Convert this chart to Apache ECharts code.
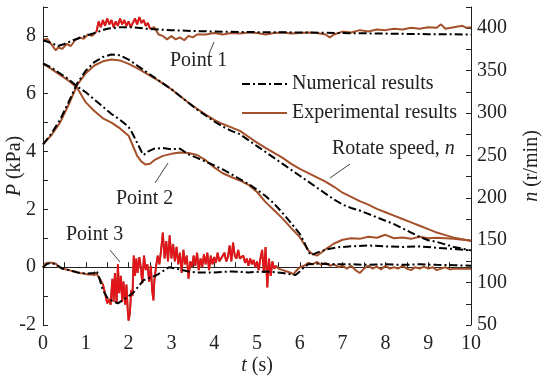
<!DOCTYPE html>
<html>
<head>
<meta charset="utf-8">
<script src="https://cdn.jsdelivr.net/npm/echarts@6/dist/echarts.min.js"></script>
<style>html,body{margin:0;padding:0;background:#fff}#c{width:550px;height:381px}</style>
</head>
<body>
<div id="c"></div>
<script>
// ---- data: [t (s), value] ----
var xTicks = [0,1,2,3,4,5,6,7,8,9,10];
var pTicks = [-2,0,2,4,6,8];
var nTicks = [50,100,150,200,250,300,350,400];

var point1Num = [[0,7.85],[0.2,7.75],[0.35,7.65],[0.5,7.72],[0.7,7.85],[0.9,7.95],[1.1,8.05],[1.3,8.15],[1.5,8.25],[1.8,8.3],[2.1,8.3],[2.4,8.25],[2.7,8.22],[3.0,8.2],[3.5,8.17],[4,8.15],[5,8.13],[6,8.12],[7,8.1],[8,8.08],[9,8.06],[10,8.05]];
var point1Exp = [[0,7.85],[0.1,7.9],[0.2,7.7],[0.3,7.5],[0.35,7.6],[0.45,7.55],[0.55,7.72],[0.65,7.65],[0.75,7.85],[0.85,7.95],[0.95,7.9],[1.05,8.05],[1.15,8.0],[1.25,8.15],[1.3,8.5],[1.35,8.3],[1.4,8.55],[1.45,8.35],[1.5,8.6],[1.55,8.4],[1.6,8.55],[1.65,8.3],[1.7,8.5],[1.75,8.35],[1.8,8.6],[1.85,8.4],[1.9,8.55],[1.95,8.35],[2.0,8.5],[2.05,8.3],[2.1,8.45],[2.15,8.6],[2.2,8.4],[2.25,8.65],[2.3,8.45],[2.35,8.55],[2.4,8.35],[2.45,8.45],[2.5,8.25],[2.6,8.3],[2.7,8.05],[2.8,8.0],[2.9,7.88],[3.0,8.0],[3.1,7.88],[3.2,7.95],[3.3,7.85],[3.4,8.0],[3.5,7.95],[3.6,8.05],[3.8,8.05],[4.0,8.1],[4.2,8.05],[4.4,8.1],[4.6,8.08],[4.8,8.12],[5.0,8.1],[5.2,8.05],[5.4,8.1],[5.6,8.12],[5.8,8.08],[6.0,8.1],[6.2,8.12],[6.4,8.1],[6.6,8.05],[6.7,7.95],[6.8,8.05],[7.0,8.15],[7.2,8.12],[7.4,8.2],[7.6,8.15],[7.8,8.22],[8.0,8.2],[8.2,8.25],[8.4,8.22],[8.6,8.28],[8.8,8.25],[9.0,8.3],[9.2,8.28],[9.3,8.4],[9.4,8.25],[9.6,8.3],[9.8,8.35],[9.9,8.28],[10,8.3]];

var point2Num = [[0,7.05],[0.2,6.9],[0.4,6.7],[0.6,6.5],[0.8,6.25],[1.0,6.05],[1.2,5.8],[1.4,5.55],[1.6,5.3],[1.8,5.1],[2.0,4.85],[2.1,4.6],[2.2,4.3],[2.3,4.0],[2.35,3.88],[2.45,4.0],[2.6,4.1],[2.8,4.12],[3.0,4.08],[3.2,4.1],[3.4,3.9],[3.6,3.78],[3.8,3.65],[4.0,3.52],[4.2,3.38],[4.4,3.22],[4.6,3.05],[4.8,2.88],[5.0,2.68],[5.2,2.46],[5.4,2.2],[5.6,1.87],[5.8,1.52],[6.0,1.15],[6.1,0.88],[6.2,0.55],[6.25,0.42],[6.35,0.47],[6.5,0.56],[6.7,0.64],[6.9,0.69],[7.2,0.72],[7.6,0.75],[8.0,0.72],[8.4,0.7],[8.8,0.72],[9.2,0.67],[9.6,0.63],[10,0.58]];
var point2Exp = [[0,7.05],[0.2,6.85],[0.4,6.65],[0.6,6.45],[0.8,6.2],[0.9,5.95],[1.0,5.7],[1.2,5.4],[1.4,5.15],[1.6,5.0],[1.8,4.8],[2.0,4.55],[2.1,4.2],[2.2,3.85],[2.3,3.65],[2.4,3.55],[2.5,3.58],[2.6,3.7],[2.8,3.85],[3.0,3.92],[3.2,3.97],[3.4,3.95],[3.6,3.88],[3.8,3.7],[4.0,3.45],[4.2,3.25],[4.4,3.12],[4.6,3.0],[4.8,2.85],[5.0,2.6],[5.2,2.25],[5.4,1.97],[5.6,1.68],[5.8,1.35],[6.0,1.04],[6.1,0.8],[6.2,0.58],[6.3,0.45],[6.4,0.4],[6.5,0.5],[6.6,0.62],[6.8,0.82],[7.0,0.95],[7.2,1.0],[7.4,0.98],[7.6,1.05],[7.8,1.02],[8.0,1.12],[8.2,1.0],[8.4,1.03],[8.6,0.98],[8.8,1.05],[9.0,1.0],[9.2,1.02],[9.4,1.0],[9.6,0.98],[9.8,0.95],[10,0.92]];

var point3Num = [[0,0.0],[0.1,0.12],[0.2,0.14],[0.3,0.1],[0.45,-0.05],[0.6,-0.1],[0.8,-0.18],[1.0,-0.22],[1.2,-0.2],[1.25,-0.12],[1.3,-0.3],[1.4,-0.8],[1.5,-1.05],[1.6,-1.15],[1.75,-1.25],[1.9,-1.1],[2.1,-0.9],[2.35,-0.45],[2.65,-0.28],[2.95,0.0],[3.2,-0.08],[3.4,-0.15],[3.6,-0.18],[4.0,-0.18],[4.4,-0.15],[4.8,-0.18],[5.2,-0.15],[5.6,-0.2],[5.8,-0.25],[5.9,-0.27],[6.0,-0.15],[6.1,0.0],[6.2,0.1],[6.4,0.12],[6.8,0.1],[7.2,0.1],[7.6,0.08],[8.0,0.1],[8.4,0.08],[8.8,0.1],[9.2,0.08],[9.6,0.07],[10,0.05]];
var point3Exp = [[0,0.0],[0.05,0.12],[0.1,0.15],[0.2,0.15],[0.3,0.12],[0.35,0.02],[0.45,-0.05],[0.55,-0.08],[0.65,-0.12],[0.75,-0.15],[0.85,-0.2],[0.95,-0.22],[1.05,-0.25],[1.15,-0.25],[1.2,-0.28],[1.25,-0.22],[1.3,-0.35],[1.35,-0.45],[1.4,-0.6],[1.45,-0.9],[1.5,-1.25],[1.55,-1.1],[1.58,-1.3],[1.62,-0.4],[1.65,-1.2],[1.68,-0.2],[1.72,-1.25],[1.75,0.1],[1.78,-0.9],[1.82,-0.3],[1.85,-1.2],[1.88,-0.5],[1.92,-1.3],[1.95,-0.6],[1.98,-1.5],[2.0,-1.85],[2.03,-1.6],[2.06,-0.8],[2.09,-1.0],[2.12,0.4],[2.15,-0.3],[2.18,0.3],[2.21,-0.2],[2.25,0.35],[2.28,0.05],[2.32,-0.55],[2.36,0.4],[2.4,-0.1],[2.44,0.1],[2.48,-0.5],[2.52,0.05],[2.55,-0.8],[2.58,-1.15],[2.6,-0.5],[2.64,0.0],[2.68,0.4],[2.72,0.1],[2.76,0.6],[2.8,1.2],[2.84,0.3],[2.88,0.9],[2.92,0.2],[2.96,1.1],[3.0,0.3],[3.04,0.8],[3.08,0.2],[3.12,0.7],[3.16,0.1],[3.2,0.5],[3.24,-0.2],[3.28,0.6],[3.32,0.1],[3.36,0.4],[3.4,-0.4],[3.44,0.2],[3.48,0.0],[3.52,0.4],[3.56,0.05],[3.6,0.5],[3.64,-0.1],[3.68,0.3],[3.72,0.0],[3.76,0.45],[3.8,0.1],[3.84,0.5],[3.88,-0.1],[3.92,0.4],[3.96,0.1],[4.0,0.35],[4.04,0.15],[4.08,0.5],[4.12,0.2],[4.16,0.3],[4.2,0.25],[4.24,0.5],[4.28,0.2],[4.32,0.35],[4.36,0.75],[4.4,0.2],[4.44,0.85],[4.48,0.4],[4.52,0.3],[4.56,0.6],[4.6,0.3],[4.64,0.25],[4.68,0.4],[4.72,0.15],[4.76,0.3],[4.8,0.05],[4.84,0.3],[4.88,0.1],[4.92,0.25],[4.96,0.0],[5.0,0.2],[5.04,-0.1],[5.08,0.3],[5.12,0.6],[5.16,-0.2],[5.2,0.7],[5.24,-0.7],[5.28,0.3],[5.32,-0.3],[5.36,0.2],[5.4,-0.05],[5.45,0.05],[5.5,-0.05],[5.6,-0.1],[5.7,-0.15],[5.8,-0.2],[5.85,-0.25],[5.9,-0.15],[6.0,0.0],[6.1,0.05],[6.2,0.15],[6.3,0.1],[6.4,0.18],[6.5,0.08],[6.6,0.15],[6.7,0.05],[6.8,0.1],[6.9,0.0],[7.0,0.05],[7.1,-0.05],[7.2,0.05],[7.3,-0.1],[7.4,-0.2],[7.5,-0.05],[7.6,0.05],[7.7,-0.05],[7.8,0.02],[7.9,-0.08],[8.0,0.05],[8.1,-0.05],[8.2,0.0],[8.3,-0.05],[8.4,0.05],[8.5,-0.05],[8.6,-0.1],[8.7,0.0],[8.8,-0.05],[8.9,0.02],[9.0,-0.05],[9.1,0.0],[9.2,-0.1],[9.3,-0.05],[9.4,0.0],[9.5,-0.08],[9.6,-0.05],[9.7,-0.05],[9.8,-0.05],[9.9,-0.05],[10,-0.05]];

var speedNum = [[0,263],[0.2,276],[0.4,292],[0.6,313],[0.8,335],[1.0,350],[1.2,360],[1.4,366],[1.6,369],[1.8,368],[2.0,363],[2.2,356],[2.4,349],[2.6,342],[2.8,335],[3.0,328],[3.2,320],[3.4,312],[3.6,304],[3.8,297],[4.0,290],[4.2,284],[4.4,279],[4.6,275],[4.8,268],[5.0,261],[5.2,254],[5.4,247],[5.6,240],[5.8,233],[6.0,226],[6.2,219],[6.4,212],[6.6,205],[6.8,198],[7.0,192],[7.2,188],[7.4,185],[7.6,181],[7.8,177],[8.0,173],[8.2,169],[8.4,164],[8.6,159],[8.8,154],[9.0,150],[9.2,148],[9.4,145],[9.6,142],[9.8,140],[10,138]];
var speedExp = [[0,263],[0.2,274],[0.4,289],[0.6,310],[0.8,333],[1.0,347],[1.2,356],[1.4,361],[1.6,363],[1.8,362],[2.0,358],[2.2,353],[2.4,347],[2.6,341],[2.8,335],[3.0,328],[3.2,320],[3.4,312],[3.6,305],[3.8,298],[4.0,292],[4.2,287],[4.4,283],[4.6,279],[4.8,272],[5.0,265],[5.2,259],[5.4,253],[5.6,247],[5.8,240],[6.0,234],[6.2,229],[6.4,224],[6.6,219],[6.8,213],[7.0,206],[7.2,201],[7.4,196],[7.6,192],[7.8,187],[8.0,183],[8.2,179],[8.4,175],[8.6,171],[8.8,167],[9.0,163],[9.2,159],[9.4,156],[9.6,153],[9.8,151],[10,149]];

// ---- styling ----
var FONT = '"Liberation Serif", "Times New Roman", serif';
var INK = '#222';
var EXP = '#A4502B';
var RED = '#E3121B';
var NUM_DASH = [8,3,2,3];

function inRange(arr, a, b){ return arr.filter(function(d){ return d[0] >= a && d[0] <= b; }); }

function numSeries(data, yi){
  return {name:'Numerical results', type:'line', data:data, yAxisIndex:yi||0, symbol:'none', z:5,
    lineStyle:{color:'#000', width:2, type:NUM_DASH}, itemStyle:{color:'#000'}};
}
function expSeries(data, yi){
  return {name:'Experimental results', type:'line', data:data, yAxisIndex:yi||0, symbol:'none', z:3,
    lineStyle:{color:EXP, width:2}, itemStyle:{color:EXP}};
}
function noiseSeries(data){
  return {name:'noise', type:'line', data:data, symbol:'none', z:4,
    lineStyle:{color:RED, width:1.7}, itemStyle:{color:RED}};
}

var AX_LINE = {show:true, lineStyle:{color:INK, width:1}};
var AX_TICK = {show:true, inside:true, length:5, lineStyle:{color:INK}};
function nameStyle(){
  return {fontFamily:FONT, fontSize:20, color:INK,
    rich:{i:{fontStyle:'italic', fontFamily:FONT, fontSize:20, color:INK}, r:{fontFamily:FONT, fontSize:20, color:INK}}};
}
function labelFmt(list){ return function(v){ return list.indexOf(v) >= 0 ? String(v) : ''; }; }

var chart = echarts.init(document.getElementById('c'), null, {renderer:'canvas'});
chart.setOption({
  animation:false,
  backgroundColor:'#fff',
  grid:{left:43, right:79, top:7, bottom:56, containLabel:false, outerBoundsMode:'none'},
  legend:{
    data:['Numerical results','Experimental results'],
    orient:'vertical', left:236, top:69, itemWidth:45, itemHeight:14, itemGap:9,
    itemStyle:{opacity:0, borderWidth:0},
    textStyle:{fontFamily:FONT, fontSize:20, color:INK}
  },
  xAxis:{
    type:'value', min:0, max:10, interval:0.5,
    name:'{i|t}{r| (s)}', nameLocation:'middle', nameGap:31, nameMoveOverlap:false,
    nameTextStyle:nameStyle(),
    axisLine:AX_LINE, axisTick:AX_TICK, splitLine:{show:false},
    axisLabel:{color:INK, fontFamily:FONT, fontSize:20, margin:9, formatter:labelFmt(xTicks)}
  },
  yAxis:[{
    type:'value', min:-2, max:9, interval:1, position:'left',
    name:'{i|P}{r| (kPa)}', nameLocation:'middle', nameGap:18, nameRotate:90, nameMoveOverlap:false,
    nameTextStyle:nameStyle(),
    axisLine:AX_LINE, axisTick:AX_TICK, splitLine:{show:false},
    axisLabel:{color:INK, fontFamily:FONT, fontSize:20, margin:7, formatter:labelFmt(pTicks)}
  },{
    type:'value', min:50, max:425, interval:25, position:'right',
    name:'{i|n}{r| (r/min)}', nameLocation:'middle', nameGap:51, nameRotate:90, nameMoveOverlap:false,
    nameTextStyle:nameStyle(),
    axisLine:AX_LINE, axisTick:AX_TICK, splitLine:{show:false},
    axisLabel:{color:INK, fontFamily:FONT, fontSize:20, margin:6, formatter:labelFmt(nTicks)}
  }],
  series:[
    expSeries(point1Exp), expSeries(point2Exp), expSeries(point3Exp), expSeries(speedExp, 1),
    noiseSeries(inRange(point1Exp, 1.25, 2.55)), noiseSeries(inRange(point3Exp, 1.4, 5.45)),
    numSeries(point1Num), numSeries(point2Num), numSeries(point3Num), numSeries(speedNum, 1)
  ],
  graphic:[
    {type:'text', left:170, top:51, style:{text:'Point 1', font:'20px "Liberation Serif"', fill:INK}},
    {type:'line', shape:{x1:209, y1:54, x2:214, y2:42}, style:{stroke:'#444', lineWidth:1}},
    {type:'text', left:116, top:189, style:{text:'Point 2', font:'20px "Liberation Serif"', fill:INK}},
    {type:'line', shape:{x1:155, y1:183, x2:168, y2:163}, style:{stroke:'#444', lineWidth:1}},
    {type:'text', left:66, top:225, style:{text:'Point 3', font:'20px "Liberation Serif"', fill:INK}},
    {type:'line', shape:{x1:110, y1:250, x2:120, y2:262}, style:{stroke:'#444', lineWidth:1}},
    {type:'text', left:332, top:139, style:{text:'Rotate speed, {i|n}', font:'20px "Liberation Serif"', fill:INK,
      rich:{i:{fontStyle:'italic', fontFamily:'Liberation Serif', fontSize:20, fill:INK}}}},
    {type:'line', shape:{x1:330, y1:178, x2:350, y2:164}, style:{stroke:'#444', lineWidth:1}}
  ]
});
</script>
</body>
</html>
